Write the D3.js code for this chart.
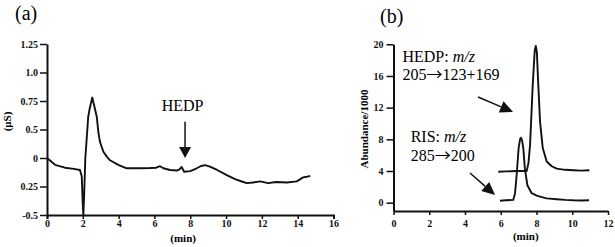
<!DOCTYPE html>
<html>
<head>
<meta charset="utf-8">
<script src="https://cdn.jsdelivr.net/npm/d3@7"></script>
<style>
  body { margin: 0; background: #fff; }
  svg { display: block; font-family: "Liberation Serif", "Times New Roman", serif; }
  .axis text { font-family: "Liberation Serif", serif; font-weight: bold; font-size: 10px; fill: #111; }
  .axis path, .axis line { stroke: #111; }
  .axis path { stroke-width: 2; }
  .axis line { stroke-width: 1.5; }
</style>
</head>
<body>
<div id="chart"></div>
<script>
// panel (a): conductivity trace, [min, uS] (values read in the axis' own label units)
const condTrace = [
  [0, 0.0], [0.45, -0.06], [1.0, -0.085], [1.5, -0.095], [1.84, -0.105], [1.94, -0.16],
  [2.0, -0.42], [2.03, -0.5], [2.08, -0.3], [2.14, 0.0], [2.22, 0.35], [2.3, 0.61],
  [2.38, 0.68], [2.53, 0.78], [2.65, 0.7], [2.78, 0.61], [2.87, 0.45], [2.96, 0.28],
  [3.15, 0.11], [3.35, 0.02], [3.52, -0.02], [3.98, -0.06], [4.45, -0.09], [4.8, -0.09],
  [5.3, -0.09], [5.75, -0.088], [6.1, -0.085], [6.31, -0.072], [6.5, -0.09], [6.87, -0.105],
  [7.25, -0.11], [7.4, -0.1], [7.52, -0.078], [7.65, -0.12], [8.0, -0.115], [8.36, -0.09],
  [8.6, -0.07], [8.83, -0.062], [9.1, -0.075], [9.5, -0.105], [10.04, -0.15], [10.5, -0.185],
  [10.88, -0.206], [11.16, -0.22], [11.5, -0.215], [11.9, -0.205], [12.35, -0.22], [12.8, -0.21],
  [13.4, -0.215], [13.95, -0.205], [14.3, -0.17], [14.5, -0.165], [14.7, -0.157]
];
const condTicks = [-0.5, -0.25, 0, 0.5, 0.75, 1.0, 1.25];
const condTickLabels = ["-0.5", "0.25", "0", "0.5", "0.75", "1.0", "1.25"];
const timeTicksA = [0, 2, 4, 6, 8, 10, 12, 14, 16];

// panel (b): MS/MS traces, [min, abundance/1000]
const hedpTrace = [
  [5.86, 3.9], [6.3, 3.95], [6.9, 4.0], [7.45, 4.0], [7.55, 5.0], [7.64, 7.3], [7.79, 14.9],
  [7.9, 19.2], [7.96, 19.8], [8.02, 19.0], [8.1, 14.9], [8.2, 10.2], [8.35, 6.9], [8.57, 5.2],
  [8.85, 4.6], [9.13, 4.3], [9.6, 4.15], [10.06, 4.1], [10.5, 4.05], [10.96, 4.1]
];
const risTrace = [
  [5.96, 0.25], [6.3, 0.3], [6.7, 0.35], [6.8, 1.2], [6.89, 3.5], [7.0, 6.9], [7.08, 8.0],
  [7.13, 8.2], [7.19, 7.9], [7.26, 6.9], [7.35, 4.3], [7.49, 2.2], [7.73, 1.2], [8.01, 0.9],
  [8.3, 0.7], [8.57, 0.55], [9.13, 0.43], [9.6, 0.35], [10.06, 0.3], [10.5, 0.28], [10.94, 0.3]
];
const abundTicks = [0, 4, 8, 12, 16, 20];
const timeTicksB = [0, 2, 4, 6, 8, 10, 12];

const W = 615, H = 247;

const svg = d3.select("#chart").append("svg")
  .attr("width", W)
  .attr("height", H);

function arrow(g, x1, y1, x2, y2, len, half) {
  const a = Math.atan2(y2 - y1, x2 - x1);
  const bx = x2 - len * Math.cos(a), by = y2 - len * Math.sin(a);
  g.append("line")
    .attr("x1", x1).attr("y1", y1).attr("x2", bx).attr("y2", by)
    .attr("stroke", "#111").attr("stroke-width", 1.5);
  const px = -Math.sin(a) * half, py = Math.cos(a) * half;
  g.append("polygon")
    .attr("points", [[x2, y2], [bx + px, by + py], [bx - px, by - py]].map(p => p.join(",")).join(" "))
    .attr("fill", "#111");
}

// ---------- panel (a)
const xA = d3.scaleLinear().domain([0, 16]).range([47, 333.5]);
const yA = d3.scaleLinear()
  .domain(condTicks)
  .range(condTicks.map((d, i) => 215 - i * 28.5));

const gA = svg.append("g");

gA.append("g")
  .attr("class", "axis")
  .attr("transform", "translate(0,215)")
  .call(d3.axisBottom(xA).tickValues(timeTicksA).tickSizeInner(4).tickSizeOuter(4).tickPadding(1));

gA.append("g")
  .attr("class", "axis")
  .attr("transform", "translate(47,0)")
  .call(d3.axisLeft(yA).tickValues(condTicks)
    .tickFormat((d, i) => condTickLabels[i])
    .tickSizeInner(7).tickSizeOuter(0).tickPadding(2));

gA.append("path")
  .datum(condTrace)
  .attr("fill", "none")
  .attr("stroke", "#111")
  .attr("stroke-width", 1.9)
  .attr("stroke-linejoin", "round")
  .attr("d", d3.line().x(d => xA(d[0])).y(d => yA(d[1])));

gA.append("text")
  .attr("x", 15).attr("y", 20)
  .attr("font-size", 20)
  .text("(a)");

gA.append("text")
  .attr("transform", `translate(11,${yA(0.5) - 8}) rotate(-90)`)
  .attr("text-anchor", "middle")
  .attr("font-size", 11).attr("font-weight", "bold")
  .text("(μS)");

gA.append("text")
  .attr("x", xA(7.6)).attr("y", 242)
  .attr("text-anchor", "middle")
  .attr("font-size", 11).attr("font-weight", "bold")
  .text("(min)");

gA.append("text")
  .attr("x", xA(7.57)).attr("y", yA(0.663))
  .attr("text-anchor", "middle")
  .attr("font-size", 16)
  .text("HEDP");

arrow(gA, xA(7.71), yA(0.567), xA(7.71), yA(0), 11, 6);

// ---------- panel (b)
const xB = d3.scaleLinear().domain([0, 12]).range([393.5, 608]);
const yB = d3.scaleLinear().domain([-1, 20]).range([210.6, 44.3]);

const gB = svg.append("g");

gB.append("g")
  .attr("class", "axis")
  .attr("transform", "translate(0,211)")
  .call(d3.axisBottom(xB).tickValues(timeTicksB).tickSizeInner(4).tickSizeOuter(0).tickPadding(5));

gB.append("g")
  .attr("class", "axis")
  .attr("transform", "translate(393.5,0)")
  .call(d3.axisLeft(yB).tickValues(abundTicks).tickSizeInner(7).tickSizeOuter(0).tickPadding(3));

const lineB = d3.line().x(d => xB(d[0])).y(d => yB(d[1]));

[hedpTrace, risTrace].forEach(tr => {
  gB.append("path")
    .datum(tr)
    .attr("fill", "none")
    .attr("stroke", "#111")
    .attr("stroke-width", 1.9)
    .attr("stroke-linejoin", "round")
    .attr("d", lineB);
});

gB.append("text")
  .attr("x", 380).attr("y", 23)
  .attr("font-size", 20)
  .text("(b)");

gB.append("text")
  .attr("transform", `translate(368,${yB(9.3)}) rotate(-90)`)
  .attr("text-anchor", "middle")
  .attr("font-size", 11).attr("font-weight", "bold")
  .text("Abundance/1000");

gB.append("text")
  .attr("x", xB(7.4)).attr("y", 240)
  .attr("text-anchor", "middle")
  .attr("font-size", 11).attr("font-weight", "bold")
  .text("(min)");

// parts: [text, style] where style is "i" for italic, "a" for the long arrow glyph
function label(g, x, y, parts) {
  const t = g.append("text").attr("x", x).attr("y", y).attr("font-size", 16);
  parts.forEach(p => {
    const s = t.append("tspan").text(p[0]);
    if (p[1] === "i") s.attr("font-style", "italic");
    if (p[1] === "a") s.attr("font-family", "Noto Sans CJK SC");
  });
}

label(gB, xB(0.5), yB(17.8), [["HEDP: "], ["m/z", "i"]]);
label(gB, xB(0.5), yB(15.5), [["205"], ["→", "a"], ["123+169"]]);
label(gB, xB(0.96), yB(7.7), [["RIS: "], ["m/z", "i"]]);
label(gB, xB(0.96), yB(5.3), [["285"], ["→", "a"], ["200"]]);

arrow(gB, xB(4.73), yB(13.35), xB(6.69), yB(11.45), 13, 6);
arrow(gB, xB(4.28), yB(3.75), xB(5.68), yB(0.97), 13, 6);
</script>
</body>
</html>
